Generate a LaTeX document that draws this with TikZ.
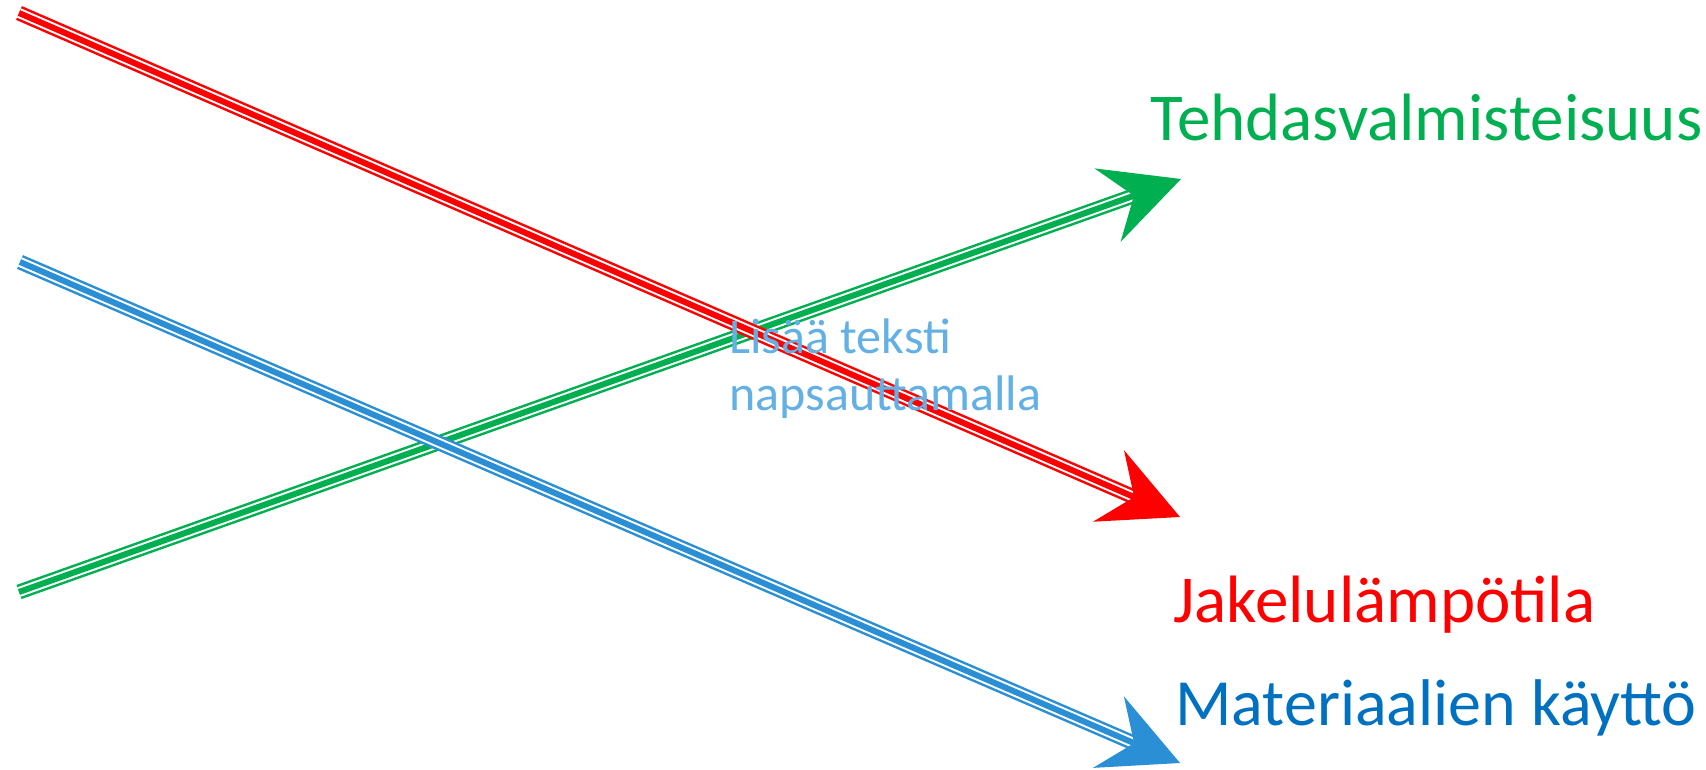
\documentclass[tikz,border=0pt]{standalone}
\usepackage{fontspec}
\setmainfont{Carlito}
\usetikzlibrary{calc}
\definecolor{redline}{RGB}{255,0,0}
\definecolor{greenline}{RGB}{0,176,80}
\definecolor{blueline}{RGB}{43,143,213}
\definecolor{bluetext}{RGB}{0,112,192}
\definecolor{hinttext}{RGB}{99,176,228}
% triple-stroke shaft from a start coordinate to a wide notched head at the tip
\newcommand{\triplearrow}[3]{% colour, start, tip
  \coordinate (#2-n) at ($(#3)!20pt!(#2)$);
  \draw[line width=7.5pt,#1] (#2) -- (#2-n);
  \draw[line width=5pt,white] (#2) -- (#2-n);
  \draw[line width=3pt,#1] (#2) -- (#2-n);
  \fill[#1] (#3) -- ($(#3)!43.6pt!26.57:(#2)$) -- ($(#3)!25pt!(#2)$)
    -- ($(#3)!43.6pt!-26.57:(#2)$) -- cycle;
}
\tikzset{
  label text/.style={anchor=base west, inner sep=0pt, font=\fontsize{33.5}{40}\selectfont},
  hint text/.style={anchor=base west, inner sep=0pt, align=left, text=hinttext,
    font=\fontsize{25}{28.5}\selectfont}
}
\begin{document}
\begin{tikzpicture}[x=0.5pt,y=-0.5pt]
\useasboundingbox (0,0) rectangle (1706,770);
% shaft ends
\coordinate (gs) at (19,592);  \coordinate (gt) at (1181,179);
\coordinate (rs) at (19,13);   \coordinate (rt) at (1180,517);
\coordinate (bs) at (20,262);  \coordinate (bt) at (1180,763);
\triplearrow{greenline}{gs}{gt}
\triplearrow{redline}{rs}{rt}
\triplearrow{blueline}{bs}{bt}
% labels
\node[label text, text=greenline] (tg) at (1150,141) {Tehdasvalmisteisuus};
\node[label text, text=redline] (tr) at (1173,622) {Jakelulämpötila};
\node[label text, text=bluetext, font=\fontsize{33}{40}\selectfont] (tb) at (1175,725) {Materiaalien käyttö};
% placeholder text block (base anchor sits on its last line)
\node[hint text] (hint) at (729,410) {Lisää teksti\\napsauttamalla};
\end{tikzpicture}
\end{document}
